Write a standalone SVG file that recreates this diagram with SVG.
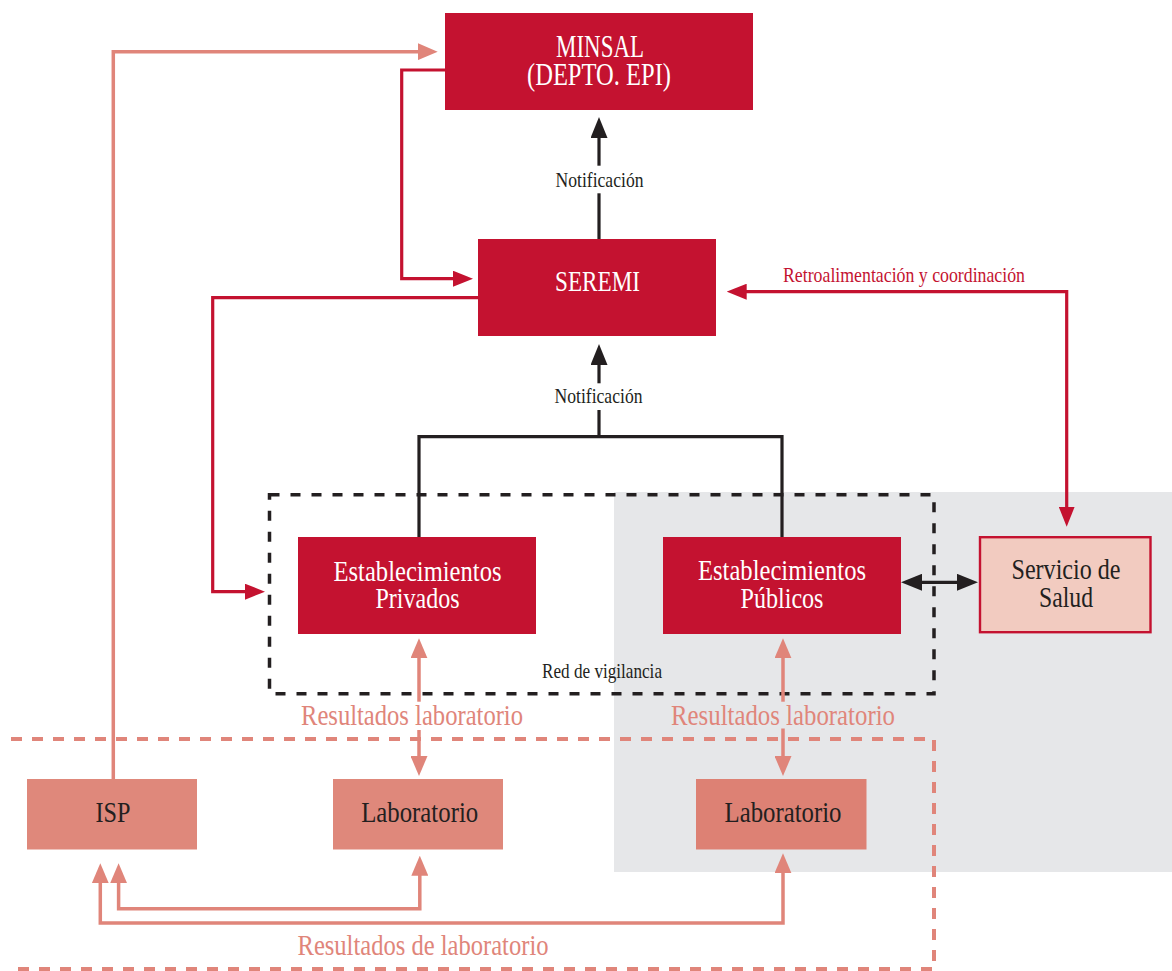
<svg xmlns="http://www.w3.org/2000/svg" width="1172" height="971" viewBox="0 0 1172 971">
<style>
text{font-family:"Liberation Serif","DejaVu Serif",serif;}
.big{font-size:30px;}
.sm{font-size:21px;}
.w{fill:#FFFFFF;}
.d{fill:#231F20;}
.r{fill:#C41230;}
.p{fill:#E0857A;}
.red{fill:#C41230;}
.pk{fill:#DF887B;}
.cr{fill:none;stroke:#C41230;stroke-width:3.2;}
.cp{fill:none;stroke:#E0857A;stroke-width:3.5;}
.cb{fill:none;stroke:#231F20;stroke-width:3.2;}
</style>
<defs>
<marker id="ar" markerUnits="userSpaceOnUse" markerWidth="20" markerHeight="16" viewBox="0 0 20 16" refX="2" refY="8" orient="auto-start-reverse"><path d="M0,0 L20,8 L0,16 z" fill="#C41230"/></marker>
<marker id="ap" markerUnits="userSpaceOnUse" markerWidth="20" markerHeight="17" viewBox="0 0 20 17" refX="2" refY="8.5" orient="auto-start-reverse"><path d="M0,0 L20,8.5 L0,17 z" fill="#E0857A"/></marker>
<marker id="ab" markerUnits="userSpaceOnUse" markerWidth="21" markerHeight="17" viewBox="0 0 21 17" refX="2" refY="8.5" orient="auto-start-reverse"><path d="M0,0 L21,8.5 L0,17 z" fill="#231F20"/></marker>
</defs>

<g id="background">
<rect x="614" y="492" width="558" height="380" fill="#E6E7E9"/>
</g>

<g id="red-de-vigilancia">
<rect x="269.5" y="494.7" width="664.5" height="199" fill="none" stroke="#231F20" stroke-width="3.5" stroke-dasharray="10 11"/>
<text class="sm d" x="542" y="677.5" textLength="120" lengthAdjust="spacingAndGlyphs">Red de vigilancia</text>
</g>

<g id="laboratorios-zona">
<path d="M11 739 H934 V969 H11" fill="none" stroke="#E0857A" stroke-width="4" stroke-dasharray="11 10"/>
</g>

<g id="connectors">
<!-- Notificación SEREMI -> MINSAL -->
<path class="cb" d="M599 239 V193.3"/>
<path class="cb" d="M599 165.7 V136" marker-end="url(#ab)"/>
<text class="sm d" x="599.5" y="187" text-anchor="middle" textLength="88" lengthAdjust="spacingAndGlyphs">Notificación</text>
<!-- Notificación Establecimientos -> SEREMI -->
<path class="cb" d="M419 537 V436.7 H782 V537"/>
<path class="cb" d="M599 436.7 V410"/>
<path class="cb" d="M599 383.3 V363" marker-end="url(#ab)"/>
<text class="sm d" x="598.5" y="403.3" text-anchor="middle" textLength="88" lengthAdjust="spacingAndGlyphs">Notificación</text>
<!-- MINSAL -> SEREMI -->
<path class="cr" d="M445 70 H401.7 V278.7 H455" marker-end="url(#ar)"/>
<!-- SEREMI -> Red de vigilancia -->
<path class="cr" d="M478 297.7 H212.7 V591.7 H247" marker-end="url(#ar)"/>
<!-- SEREMI <-> Servicio de Salud -->
<path class="cr" d="M744.7 291.7 H1066.7 V508.7" marker-start="url(#ar)" marker-end="url(#ar)"/>
<text class="sm r" x="783" y="281.5" textLength="242" lengthAdjust="spacingAndGlyphs">Retroalimentación y coordinación</text>
<!-- ISP -> MINSAL -->
<path class="cp" d="M113.3 779 V51.7 H419.7" marker-end="url(#ap)"/>
<!-- Privados <-> Laboratorio -->
<path class="cp" d="M419 656.3 V701.7" marker-start="url(#ap)"/>
<path class="cp" d="M419 730 V758" marker-end="url(#ap)"/>
<text class="big p" x="301" y="725" textLength="222" lengthAdjust="spacingAndGlyphs">Resultados laboratorio</text>
<!-- Públicos <-> Laboratorio -->
<path class="cp" d="M783 656.3 V701.7" marker-start="url(#ap)"/>
<path class="cp" d="M783 728.5 V758" marker-end="url(#ap)"/>
<text class="big p" x="671" y="724.5" textLength="224" lengthAdjust="spacingAndGlyphs">Resultados laboratorio</text>
<!-- Laboratorios -> ISP -->
<path class="cp" d="M118.6 881.3 V908.7 H419.8 V873.7" marker-start="url(#ap)" marker-end="url(#ap)"/>
<path class="cp" d="M100.3 881.3 V923 H783 V871.3" marker-start="url(#ap)" marker-end="url(#ap)"/>
<text class="big p" x="297.5" y="955" textLength="251" lengthAdjust="spacingAndGlyphs">Resultados de laboratorio</text>
<!-- Públicos <-> Servicio de Salud -->
<path class="cb" d="M920 582.3 H959" marker-start="url(#ab)" marker-end="url(#ab)"/>
</g>

<g id="minsal">
<rect class="red" x="445" y="13" width="308" height="97"/>
<text class="w" style="font-size:31px" x="600" y="57" text-anchor="middle" textLength="88" lengthAdjust="spacingAndGlyphs">MINSAL</text>
<text class="w" style="font-size:31px" x="599" y="85" text-anchor="middle" textLength="144" lengthAdjust="spacingAndGlyphs">(DEPTO. EPI)</text>
</g>

<g id="seremi">
<rect class="red" x="478" y="239" width="238" height="97"/>
<text class="big w" x="597.5" y="290.7" text-anchor="middle" textLength="85" lengthAdjust="spacingAndGlyphs">SEREMI</text>
</g>

<g id="establecimientos-privados">
<rect class="red" x="298" y="537" width="238" height="97"/>
<text class="big w" x="417.5" y="580.7" text-anchor="middle" textLength="168" lengthAdjust="spacingAndGlyphs">Establecimientos</text>
<text class="big w" x="417.5" y="608.3" text-anchor="middle" textLength="84" lengthAdjust="spacingAndGlyphs">Privados</text>
</g>

<g id="establecimientos-publicos">
<rect class="red" x="663" y="537" width="238" height="97"/>
<text class="big w" x="782" y="580" text-anchor="middle" textLength="168" lengthAdjust="spacingAndGlyphs">Establecimientos</text>
<text class="big w" x="782" y="607.7" text-anchor="middle" textLength="83" lengthAdjust="spacingAndGlyphs">Públicos</text>
</g>

<g id="servicio-de-salud">
<rect x="980" y="537.2" width="170.5" height="95" fill="#F2CBC0" stroke="#C41230" stroke-width="2.4"/>
<text class="big d" x="1066" y="579" text-anchor="middle" textLength="109" lengthAdjust="spacingAndGlyphs">Servicio de</text>
<text class="big d" x="1066" y="606.7" text-anchor="middle" textLength="54" lengthAdjust="spacingAndGlyphs">Salud</text>
</g>

<g id="isp">
<rect class="pk" x="27" y="779" width="170" height="70.5"/>
<text class="big d" x="113" y="821.7" text-anchor="middle" textLength="35" lengthAdjust="spacingAndGlyphs">ISP</text>
</g>

<g id="laboratorio-privado">
<rect class="pk" x="333" y="779" width="170" height="70.5"/>
<text class="big d" x="419.7" y="821.7" text-anchor="middle" textLength="117" lengthAdjust="spacingAndGlyphs">Laboratorio</text>
</g>

<g id="laboratorio-publico">
<rect x="696" y="779" width="170.5" height="70.5" fill="#DD8174"/>
<text class="big d" x="783" y="821.7" text-anchor="middle" textLength="117" lengthAdjust="spacingAndGlyphs">Laboratorio</text>
</g>
</svg>
